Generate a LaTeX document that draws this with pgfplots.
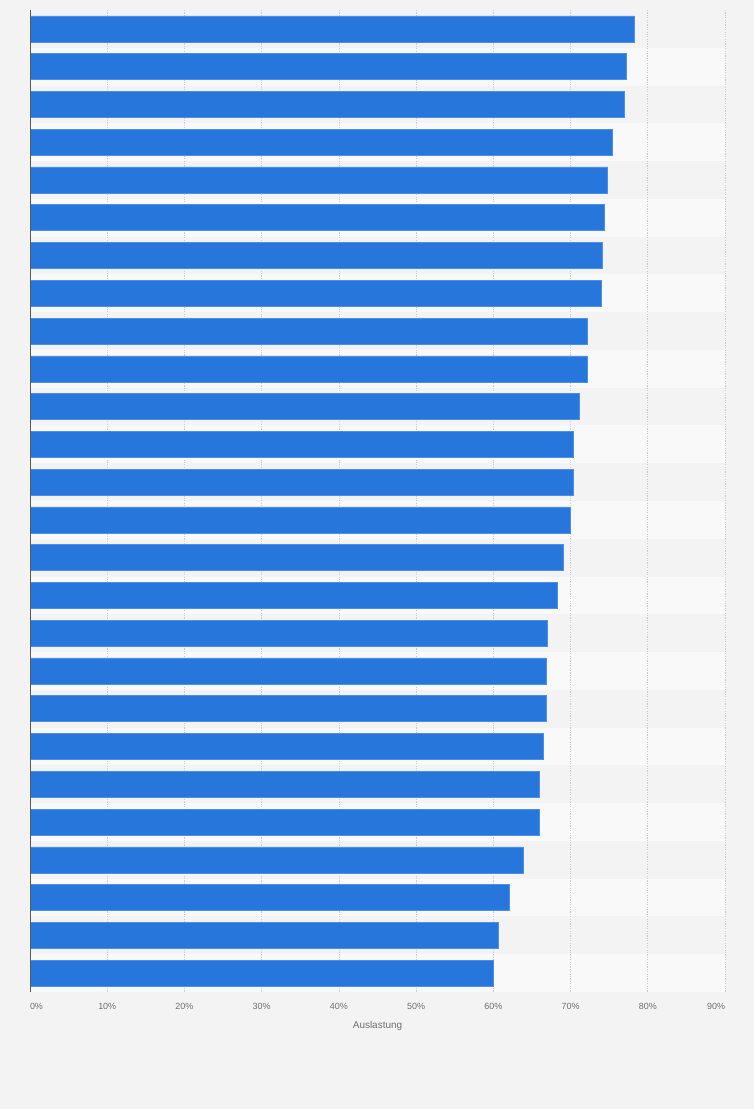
\documentclass[border=0pt]{standalone}
\usepackage{pgfplots}
\pgfplotsset{compat=1.18}
\usepackage{fontspec}
\setmainfont{Liberation Sans}

\definecolor{pagebg}{HTML}{F3F3F3}
\definecolor{stripe}{HTML}{F9F9F9}
\definecolor{barblue}{HTML}{2776DC}
\definecolor{baredge}{HTML}{4C8FE6}
\definecolor{ticktext}{HTML}{6F6F6F}
\definecolor{gridgray}{HTML}{CDCDCD}

% Auslastung, top bar first
\pgfplotstableread{
pos val
1  78.2
2  77.2
3  76.9
4  75.4
5  74.8
6  74.4
7  74.1
8  74.0
9  72.2
10 72.2
11 71.1
12 70.4
13 70.3
14 70.0
15 69.0
16 68.3
17 67.0
18 66.8
19 66.8
20 66.5
21 66.0
22 65.9
23 63.9
24 62.1
25 60.7
26 60.0
}\auslastung

\begin{document}
\begin{tikzpicture}
% page background and row stripes (plot area 30..725 x 117..1099 bp)
\fill[pagebg] (0bp,0bp) rectangle (754bp,1109bp);
\foreach \i in {2,4,...,26}{
  \fill[stripe] (30bp,{(1099-(\i-1)*37.77)*1bp}) rectangle (725bp,{(1099-\i*37.77)*1bp});
}
\begin{axis}[
  at={(30bp,117bp)}, anchor=south west,
  scale only axis,
  width=695bp, height=982bp,
  xbar, bar width=26bp,
  xmin=0, xmax=90,
  ymin=0.5, ymax=26.5,
  y dir=reverse,
  ytick=\empty,
  xtick={0,10,...,90},
  xticklabels={\makebox[0pt][l]{0\%},10\%,20\%,30\%,40\%,50\%,60\%,70\%,80\%,\makebox[0pt][r]{90\%}},
  major tick length=0pt,
  xticklabel style={font=\fontsize{9}{11}\selectfont, text=ticktext, anchor=north, yshift=-8bp},
  xlabel={Auslastung},
  xlabel style={font=\fontsize{10}{12}\selectfont, text=ticktext,
    at={(axis description cs:0.5,0)}, anchor=center, yshift=-34bp},
  axis line style={draw=none},
  xmajorgrids,
  grid style={gridgray, line width=0.7pt, dash pattern=on 1.2pt off 1.2pt},
]
\addplot[fill=barblue, draw=baredge, line width=0.6pt] table[x=val, y=pos] {\auslastung};
\draw[gray!70!black, line width=1.3pt] (rel axis cs:0,0) -- (rel axis cs:0,1);
\end{axis}
\useasboundingbox (0bp,0bp) rectangle (754bp,1109bp);
\end{tikzpicture}
\end{document}
